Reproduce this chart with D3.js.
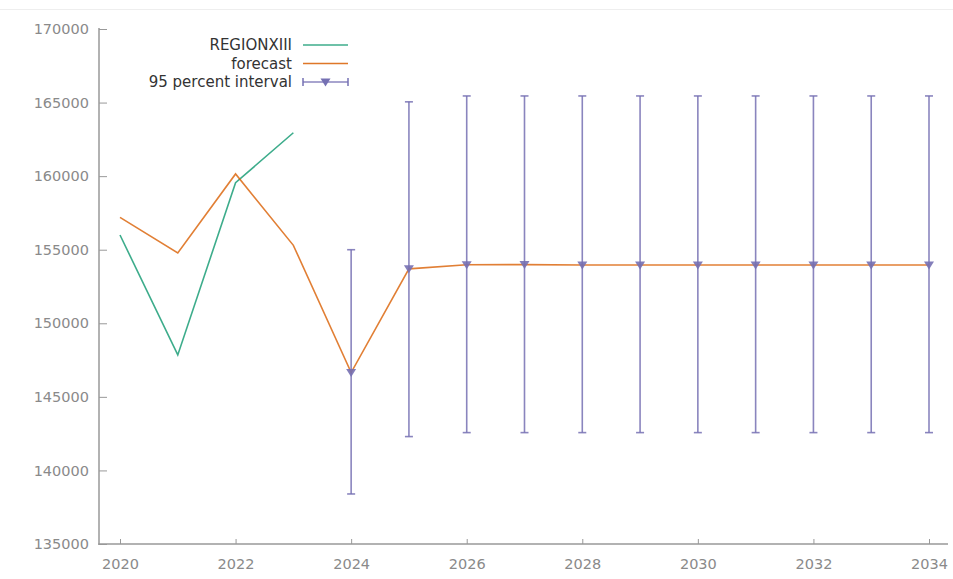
<!DOCTYPE html>
<html>
<head>
<meta charset="utf-8">
<script src="https://cdn.jsdelivr.net/npm/d3@7"></script>
<style>
  html, body { margin: 0; padding: 0; background: #fff; }
  svg { display: block; }
  svg text { font-family: "DejaVu Sans", Verdana, sans-serif; }
</style>
</head>
<body>
<svg id="chart" width="953" height="579"></svg>
<script>
// Observed series
const obsYears = [2020, 2021, 2022, 2023];
const obsValues = [156000, 147850, 159550, 162950];

// Forecast series
const fcYears = [2020, 2021, 2022, 2023, 2024, 2025, 2026, 2027, 2028, 2029, 2030, 2031, 2032, 2033, 2034];
const fcValues = [157200, 154780, 160150, 155300, 146650, 153700, 153980, 153990, 153960, 153960, 153960, 153960, 153960, 153960, 153960];

// 95 percent interval bounds (years 2024..2034)
const ciYears = [2024, 2025, 2026, 2027, 2028, 2029, 2030, 2031, 2032, 2033, 2034];
const ciLower = [138400, 142300, 142570, 142570, 142570, 142570, 142570, 142570, 142570, 142570, 142570];
const ciUpper = [155000, 165050, 165450, 165450, 165450, 165450, 165450, 165450, 165450, 165450, 165450];

const yTicks = [135000, 140000, 145000, 150000, 155000, 160000, 165000, 170000];
const xTicks = [2020, 2022, 2024, 2026, 2028, 2030, 2032, 2034];

const colObs = "#1b9e77", colFc = "#d95f02", colCi = "#7570b3";
const FONT = "'DejaVu Sans', Verdana, sans-serif";

const svg = d3.select("#chart");
const x = d3.scaleLinear().domain([2020, 2034]).range([120, 929]);
const y = d3.scaleLinear().domain([135000, 170000]).range([544, 29]);

// faint frame line at top
svg.append("line").attr("x1", 0).attr("x2", 953).attr("y1", 9.5).attr("y2", 9.5)
  .attr("stroke", "#eee").attr("stroke-width", 1);

// Y axis
const yAxis = svg.append("g").attr("transform", "translate(99,0)")
  .call(d3.axisRight(y).tickValues(yTicks).tickSize(8).tickFormat(d3.format("d")))
  .attr("font-family", FONT);
yAxis.select(".domain").remove();
yAxis.selectAll(".tick line").attr("stroke", "#999").attr("stroke-width", 1);
yAxis.selectAll(".tick text").attr("x", -10).attr("text-anchor", "end")
  .attr("fill", "#8a8a8a").style("font-size", "14.5px");
svg.append("line").attr("x1", 99).attr("x2", 99).attr("y1", 28).attr("y2", 545)
  .attr("stroke", "#999").attr("stroke-width", 1.5);

// X axis
const xAxis = svg.append("g").attr("transform", "translate(0,544)")
  .call(d3.axisTop(x).tickValues(xTicks).tickSize(5).tickFormat(d3.format("d")))
  .attr("font-family", FONT);
xAxis.select(".domain").remove();
xAxis.selectAll(".tick line").attr("stroke", "#999").attr("stroke-width", 1);
xAxis.selectAll(".tick text").attr("y", 25).attr("dy", "0").attr("fill", "#8a8a8a")
  .style("font-size", "14.5px");
svg.append("line").attr("x1", 98.25).attr("x2", 948).attr("y1", 544).attr("y2", 544)
  .attr("stroke", "#999").attr("stroke-width", 1.5);

const line = d3.line().x(d => x(d[0])).y(d => y(d[1]));

// Observed line
svg.append("path").datum(obsYears.map((yr, i) => [yr, obsValues[i]]))
  .attr("d", line).attr("fill", "none").attr("stroke", colObs).attr("stroke-width", 1.6)
  .attr("stroke-opacity", 0.85);

// Interval bars
const ci = ciYears.map((yr, i) => ({ yr, lo: ciLower[i], hi: ciUpper[i] }));
const ciG = svg.append("g").attr("stroke", colCi).attr("stroke-width", 1.6).attr("stroke-opacity", 0.85);
ciG.selectAll("line.bar").data(ci).join("line")
  .attr("x1", d => x(d.yr)).attr("x2", d => x(d.yr))
  .attr("y1", d => y(d.lo)).attr("y2", d => y(d.hi));
ciG.selectAll("line.capHi").data(ci).join("line")
  .attr("x1", d => x(d.yr) - 4).attr("x2", d => x(d.yr) + 4)
  .attr("y1", d => y(d.hi)).attr("y2", d => y(d.hi));
ciG.selectAll("line.capLo").data(ci).join("line")
  .attr("x1", d => x(d.yr) - 4).attr("x2", d => x(d.yr) + 4)
  .attr("y1", d => y(d.lo)).attr("y2", d => y(d.lo));

// Forecast line
svg.append("path").datum(fcYears.map((yr, i) => [yr, fcValues[i]]))
  .attr("d", line).attr("fill", "none").attr("stroke", colFc).attr("stroke-width", 1.6)
  .attr("stroke-opacity", 0.8);

// Interval markers (downward triangles at forecast points)
const tri = "M-5,-3.5 L5,-3.5 L0,4.5 Z";
svg.append("g").selectAll("path").data(ciYears).join("path")
  .attr("transform", yr => `translate(${x(yr)},${y(fcValues[fcYears.indexOf(yr)])})`)
  .attr("d", tri).attr("fill", colCi).attr("fill-opacity", 0.9);

// Legend
const legend = svg.append("g").attr("font-family", FONT).style("font-size", "15px").attr("fill", "#333");
const items = [
  { label: "REGIONXIII", color: colObs, y: 45 },
  { label: "forecast", color: colFc, y: 63.5 },
  { label: "95 percent interval", color: colCi, y: 82, ci: true }
];
items.forEach(it => {
  legend.append("text").attr("x", 292).attr("y", it.y).attr("dy", "0.35em")
    .attr("text-anchor", "end").text(it.label);
  legend.append("line").attr("x1", 303).attr("x2", 348).attr("y1", it.y).attr("y2", it.y)
    .attr("stroke", it.color).attr("stroke-width", 1.6).attr("stroke-opacity", 0.85);
  if (it.ci) {
    [303, 348].forEach(cx => legend.append("line").attr("x1", cx).attr("x2", cx)
      .attr("y1", it.y - 4).attr("y2", it.y + 4).attr("stroke", it.color).attr("stroke-width", 1.5));
    legend.append("path").attr("transform", `translate(325.5,${it.y})`).attr("d", tri)
      .attr("fill", it.color);
  }
});
</script>
</body>
</html>
